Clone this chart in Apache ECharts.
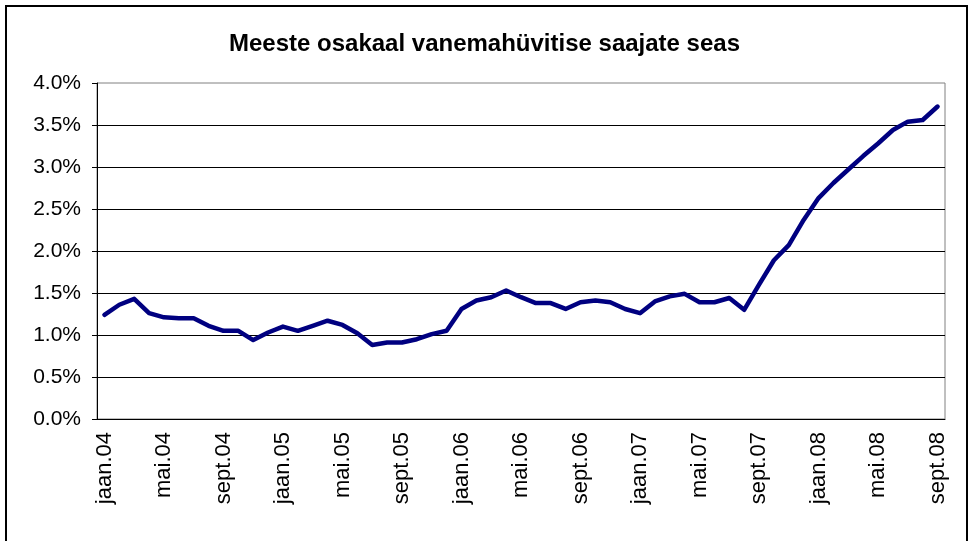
<!DOCTYPE html>
<html>
<head>
<meta charset="utf-8">
<script src="https://cdn.jsdelivr.net/npm/echarts@6/dist/echarts.min.js"></script>
<style>
  html, body { margin: 0; padding: 0; background: #fff; }
  #frame {
    position: absolute;
    left: 5px;
    top: 5px;
    width: 963px;
    height: 540px;
    border: 2px solid #000;
    box-sizing: border-box;
  }
  #chart {
    position: absolute;
    left: 0;
    top: 0;
    width: 969px;
    height: 541px;
  }
</style>
</head>
<body>
<div id="frame"></div>
<div id="chart"></div>
<script>
  // kuud ja aastad (jaan.04 ... sept.08)
  var monthNames = ['jaan', 'veebr', 'märts', 'apr', 'mai', 'juuni', 'juuli', 'aug', 'sept', 'okt', 'nov', 'dets'];
  var years = ['04', '05', '06', '07', '08'];
  var lastYearMonths = 9;

  // meeste osakaal, %
  var shareValues = [
    1.24, 1.36, 1.43, 1.26, 1.21, 1.20, 1.20, 1.11, 1.05, 1.05, 0.94, 1.03,
    1.10, 1.05, 1.11, 1.17, 1.12, 1.02, 0.88, 0.91, 0.91, 0.95, 1.01, 1.05,
    1.31, 1.41, 1.45, 1.53, 1.45, 1.38, 1.38, 1.31, 1.39, 1.41, 1.39, 1.31,
    1.26, 1.40, 1.46, 1.49, 1.39, 1.39, 1.44, 1.30, 1.60, 1.89, 2.07, 2.37,
    2.63, 2.81, 2.97, 3.13, 3.28, 3.44, 3.54, 3.56, 3.72
  ];

  var categories = [];
  for (var y = 0; y < years.length; y++) {
    var n = (y == years.length - 1) ? lastYearMonths : 12;
    for (var m = 0; m < n; m++) {
      categories.push(monthNames[m] + '.' + years[y]);
    }
  }

  var chart = echarts.init(document.getElementById('chart'));
  chart.setOption({
    animation: false,
    title: {
      text: 'Meeste osakaal vanemahüvitise saajate seas',
      left: 'center',
      top: 27,
      textStyle: {
        fontFamily: 'Liberation Sans',
        fontSize: 24,
        fontWeight: 'bold',
        color: '#000'
      }
    },
    grid: {
      left: 97,
      right: 24,
      top: 83,
      bottom: 122,
      show: true,
      borderColor: '#808080',
      borderWidth: 1
    },
    xAxis: {
      type: 'category',
      data: categories,
      boundaryGap: true,
      axisLine: { lineStyle: { color: '#000', width: 1 } },
      axisTick: { interval: 3, length: 5, lineStyle: { color: '#000' } },
      axisLabel: {
        interval: 3,
        rotate: 90,
        margin: 13,
        fontFamily: 'Liberation Sans',
        fontSize: 22,
        color: '#000'
      }
    },
    yAxis: {
      type: 'value',
      min: 0,
      max: 4,
      interval: 0.5,
      axisLine: { show: true, lineStyle: { color: '#000', width: 1 } },
      axisTick: { show: true, length: 5, lineStyle: { color: '#000' } },
      axisLabel: {
        margin: 16,
        fontFamily: 'Liberation Sans',
        fontSize: 21,
        color: '#000',
        formatter: function (v) { return v.toFixed(1) + '%'; }
      },
      splitLine: { show: true, showMaxLine: false, lineStyle: { color: '#000', width: 1 } }
    },
    series: [
      {
        name: 'Meeste osakaal',
        type: 'line',
        data: shareValues,
        symbol: 'none',
        lineStyle: { color: '#000080', width: 4.5, join: 'round', cap: 'round' }
      }
    ]
  });
</script>
</body>
</html>
